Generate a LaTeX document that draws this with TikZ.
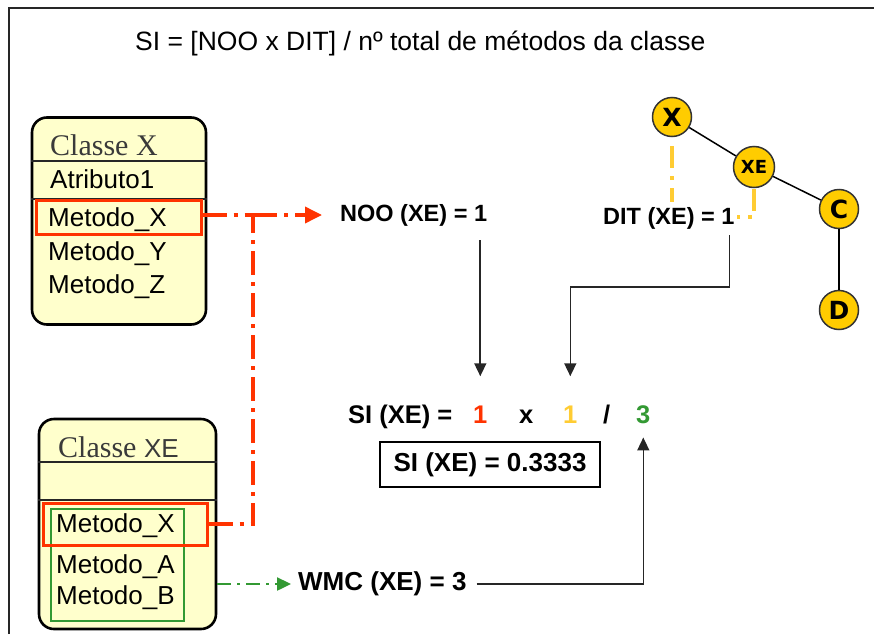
\documentclass[tikz,border=0pt]{standalone}
\usepackage{fontspec}
\setmainfont{Liberation Sans}
\newfontfamily\serifface{Liberation Serif}
\newfontfamily\heavyface{DejaVu Sans}
\usetikzlibrary{arrows.meta}

\definecolor{clsfill}{HTML}{FFFFCC}
\definecolor{hlred}{HTML}{FF3300}
\definecolor{hlgreen}{HTML}{339933}
\definecolor{hlyellow}{HTML}{FFCC33}
\definecolor{nodegold}{HTML}{FFCC00}
\definecolor{titlegray}{HTML}{3A3A3A}

\tikzset{
  x=1pt, y=-1pt,
  classbox/.style={draw=black, line width=2.6pt, fill=clsfill, rounded corners=15pt, inner sep=0pt},
  sepline/.style={line width=2pt, draw=black!85},
  member/.style={anchor=base west, inner sep=0pt, font=\fontsize{26}{28}\selectfont},
  clstitle/.style={anchor=base west, inner sep=0pt, text=titlegray, font=\serifface\fontsize{30}{32}\selectfont},
  redbox/.style={draw=hlred, line width=3pt, inner sep=0pt},
  greenbox/.style={draw=hlgreen, line width=1.6pt, inner sep=0pt},
  redline/.style={draw=hlred, line width=3.6pt, dash pattern=on 24pt off 7pt on 4pt off 7pt},
  greenline/.style={draw=hlgreen, line width=2.4pt, dash pattern=on 14pt off 6pt on 3pt off 6pt},
  yline/.style={draw=hlyellow, line width=3.5pt, dash pattern=on 22pt off 8pt on 4pt off 8pt},
  label/.style={inner sep=0pt, font=\bfseries\fontsize{23.5}{25}\selectfont},
  flow/.style={draw=black!85, line width=1.6pt, -{Triangle[width=12pt,length=13pt]}},
  treenode/.style={circle, draw=black!80, line width=1.5pt, fill=nodegold, inner sep=0pt, minimum size=39pt, font=\heavyface\bfseries\fontsize{25}{25}\selectfont},
  treeedge/.style={draw=black, line width=1.5pt},
}

\begin{document}
\begin{tikzpicture}
\useasboundingbox (0,0) rectangle (874,634);

% page frame
\draw[line width=2.4pt, black!85] (9,634) -- (9,8) -- (874,8);

% formula heading
\node[anchor=base west, inner sep=0pt, font=\fontsize{26.5}{28}\selectfont] (heading) at (135,51) {SI = [NOO x DIT] / nº total de métodos da classe};

% class X
\node[classbox, minimum width=174pt, minimum height=207pt] (clsX) at (119,221) {};
\draw[sepline] (clsX.west |- 0,161) -- (clsX.east |- 0,161);
\draw[sepline] (clsX.west |- 0,199) -- (clsX.east |- 0,199);
\node[clstitle] (clsXtitle) at (50,155) {Classe X};
\node[member] (attr1) at (50,188) {Atributo1};
\node[redbox, minimum width=165pt, minimum height=34pt] (mxX) at (118.5,217) {};
\node[member] (mX1) at (48,226) {Metodo\_X};
\node[member] (mY) at (48,260) {Metodo\_Y};
\node[member] (mZ) at (48,293) {Metodo\_Z};

% class XE
\node[classbox, minimum width=177pt, minimum height=210pt] (clsXE) at (127.5,524) {};
\draw[sepline] (clsXE.west |- 0,462) -- (clsXE.east |- 0,462);
\draw[sepline] (clsXE.west |- 0,500) -- (clsXE.east |- 0,500);
\node[clstitle] (clsXEtitle) at (58,457) {Classe {\normalfont\fontsize{26}{28}\selectfont XE}};
\node[greenbox, minimum width=133pt, minimum height=112pt] (grp) at (117.5,565) {};
\node[redbox, minimum width=164pt, minimum height=42pt] (mxXE) at (125,524) {};
\node[member] (mX2) at (56,532) {Metodo\_X};
\node[member] (mA) at (56,573) {Metodo\_A};
\node[member] (mB) at (56,604) {Metodo\_B};

% metric labels
\node[label, anchor=west] (noo) at (340,215) {NOO (XE) = 1};
\node[label, anchor=west] (dit) at (603,218) {DIT (XE) = 1};
\node[label, anchor=west, font=\bfseries\fontsize{26}{27}\selectfont] (wmc) at (298,584) {WMC (XE) = 3};

% SI expression
\node[label, anchor=base west, font=\bfseries\fontsize{25.5}{27}\selectfont] (si) at (348,423) {SI (XE) =};
\node[label, anchor=base west, text=hlred, font=\bfseries\fontsize{25.5}{27}\selectfont] (n1) at (473,423) {1};
\node[label, anchor=base west, font=\bfseries\fontsize{25.5}{27}\selectfont] (times) at (519,423) {x};
\node[label, anchor=base west, text=hlyellow, font=\bfseries\fontsize{25.5}{27}\selectfont] (n2) at (563,423) {1};
\node[label, anchor=base west, font=\bfseries\fontsize{25.5}{27}\selectfont] (slash) at (603,423) {/};
\node[label, anchor=base west, text=hlgreen, font=\bfseries\fontsize{25.5}{27}\selectfont] (n3) at (636,423) {3};
\node[label, draw, line width=2.8pt, minimum width=220pt, minimum height=45pt, font=\bfseries\fontsize{26}{27}\selectfont] (res) at (490,464.5) {SI (XE) = 0.3333};

% inheritance tree
\node[treenode] (tX) at (672,117) {X};
\node[treenode, minimum size=41pt, font=\heavyface\bfseries\fontsize{18}{18}\selectfont] (tXE) at (754,167) {XE};
\node[treenode] (tC) at (839,209) {C};
\node[treenode] (tD) at (839,310) {D};
\draw[treeedge] (tX) -- (tXE);
\draw[treeedge] (tXE) -- (tC);
\draw[treeedge] (tC) -- (tD);

% depth markers
\coordinate (dX) at (672,202);
\draw[yline] ([yshift=-9pt]tX.south) -- (dX);
\coordinate (dXE) at (737,217);
\draw[yline] ([yshift=-1pt]tXE.south) |- (dXE);

% Metodo_X overridden in XE
\coordinate (nooin) at (322,215);
\coordinate (jn) at (253,215);
\draw[redline] (mxX.east |- nooin) -- (jn);
\draw[redline, -{Triangle[width=16pt,length=17pt]}] (jn) -- (nooin);
\draw[redline] (mxXE.east) -| (jn);

% WMC from class XE
\coordinate (wmcin) at (291,584);
\draw[greenline, -{Triangle[width=13pt,length=14pt]}] (clsXE.east |- wmcin) -- (wmcin);

% values into SI
\draw[flow] ([yshift=-14pt]noo.south -| n1) -- ([yshift=29pt]n1.north);
\draw[flow] ([xshift=-5pt,yshift=-6pt]dit.south east) -- ++(0,52) -| ([yshift=29pt]n2.north);
\draw[flow] ([xshift=10pt]wmc.east) -| ([yshift=-14pt]n3.south);
\end{tikzpicture}
\end{document}
